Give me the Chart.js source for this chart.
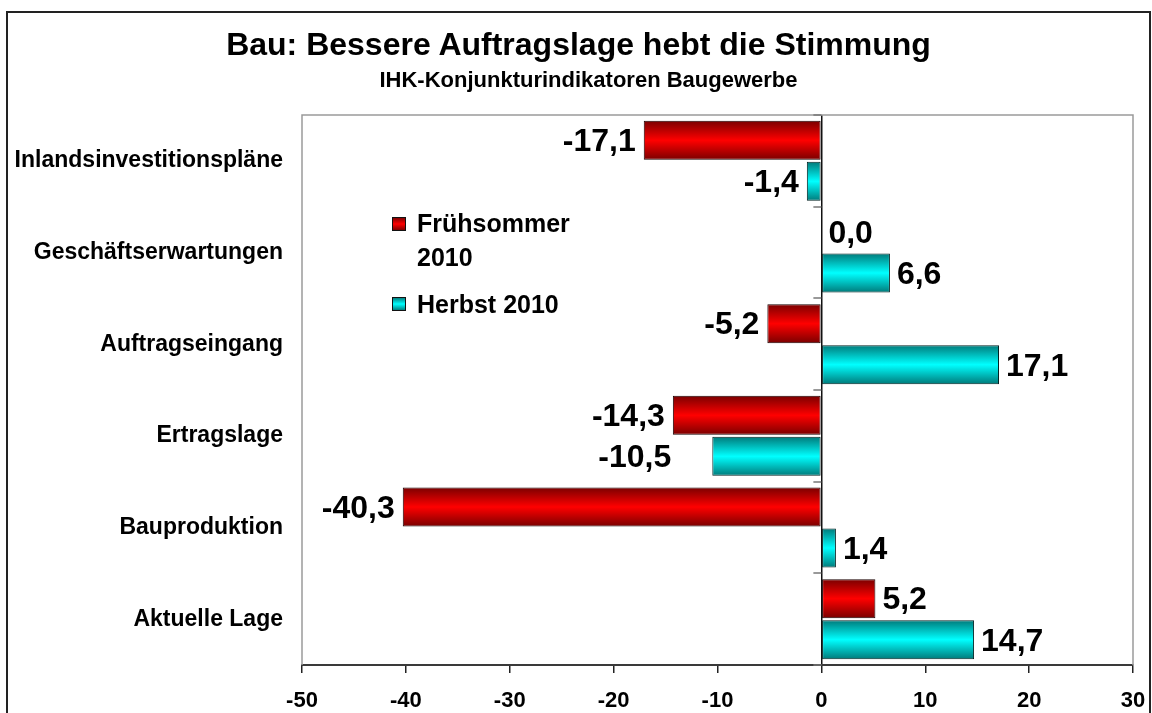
<!DOCTYPE html>
<html><head><meta charset="utf-8">
<script src="https://cdn.jsdelivr.net/npm/chart.js@4.4.1/dist/chart.umd.min.js"></script>
<style>
html,body{margin:0;padding:0;background:#fff;}
#wrap{position:relative;width:1152px;height:713px;overflow:hidden;font-family:"Liberation Sans",Arial,sans-serif;}
#frame{position:absolute;left:6px;top:11px;width:1145px;height:740px;border:2px solid #222;box-sizing:border-box;pointer-events:none;}
#c{position:absolute;left:0;top:0;}
.t{position:absolute;width:1143px;text-align:center;font-weight:bold;color:#000;white-space:nowrap;}
#title{left:7px;top:26px;font-size:32px;line-height:37px;}
#subtitle{left:17px;top:67px;font-size:22px;line-height:26px;}
.lg{position:absolute;font-weight:bold;font-size:25px;line-height:28px;color:#000;white-space:nowrap;}
.sw{position:absolute;width:14px;height:14px;border:1px solid #111;box-sizing:border-box;}
</style></head>
<body>
<div id="wrap">
<canvas id="c" width="1152" height="713"></canvas>
<div id="frame"></div>
<div class="t" id="title">Bau: Bessere Auftragslage hebt die Stimmung</div>
<div class="t" id="subtitle">IHK-Konjunkturindikatoren Baugewerbe</div>
<div class="sw" id="sw1" style="left:392px;top:217px;background:linear-gradient(#800000,#ff0000,#800000);"></div>
<div class="lg" style="left:417px;top:209px;" id="lg1a"></div>
<div class="lg" style="left:417px;top:243px;" id="lg1b"></div>
<div class="sw" id="sw2" style="left:392px;top:297px;background:linear-gradient(#008080,#00ffff,#008080);"></div>
<div class="lg" style="left:417px;top:290px;" id="lg2"></div>
</div>
<script>
const categories = ['Inlandsinvestitionspläne','Geschäftserwartungen','Auftragseingang','Ertragslage','Bauproduktion','Aktuelle Lage'];
const seriesNames = ['Frühsommer 2010','Herbst 2010'];
const fruehsommer2010 = [-17.1, 0.0, -5.2, -14.3, -40.3, 5.2];
const herbst2010 = [-1.4, 6.6, 17.1, -10.5, 1.4, 14.7];
const xTicks = [-50,-40,-30,-20,-10,0,10,20,30];

document.getElementById('lg1a').textContent = 'Frühsommer';
document.getElementById('lg1b').textContent = '2010';
document.getElementById('lg2').textContent = seriesNames[1];

const FONT = '"Liberation Sans", Arial, sans-serif';
const gradStops = [
  ['#7a0000','#ff0000','#7a0000'],
  ['#007a7a','#00ffff','#007a7a']
];
const labelShift = {'1-3': -33};

const gradientPlugin = {
  id: 'barGradient',
  beforeDatasetsDraw(chart) {
    const ctx = chart.ctx;
    chart.data.datasets.forEach((ds, di) => {
      const meta = chart.getDatasetMeta(di);
      meta.data.forEach(bar => {
        const {y, height} = bar.getProps(['y','height'], true);
        const g = ctx.createLinearGradient(0, y - height/2, 0, y + height/2);
        const s = gradStops[di];
        g.addColorStop(0, s[0]); g.addColorStop(0.5, s[1]); g.addColorStop(1, s[2]);
        bar.options.backgroundColor = g;
      });
    });
  }
};

const framePlugin = {
  id: 'plotFrame',
  beforeDatasetsDraw(chart) {
    const {ctx, chartArea: a, scales} = chart;
    ctx.save();
    ctx.strokeStyle = '#9a9a9a';
    ctx.lineWidth = 1.5;
    ctx.beginPath();
    ctx.moveTo(a.left, a.bottom); ctx.lineTo(a.left, a.top); ctx.lineTo(a.right, a.top); ctx.lineTo(a.right, a.bottom);
    ctx.stroke();
    const x0 = scales.x.getPixelForValue(0);
    ctx.strokeStyle = '#777';
    ctx.lineWidth = 1.5;
    for (let i = 0; i <= categories.length; i++) {
      const yy = Math.round(scales.y.getPixelForValue(i - 0.5));
      ctx.beginPath(); ctx.moveTo(x0 - 8, yy); ctx.lineTo(x0, yy); ctx.stroke();
    }
    ctx.restore();
  }
};

const labelPlugin = {
  id: 'valueLabels',
  afterDatasetsDraw(chart) {
    const ctx = chart.ctx;
    ctx.save();
    ctx.font = 'bold 32px ' + FONT;
    ctx.fillStyle = '#000';
    ctx.textBaseline = 'middle';
    chart.data.datasets.forEach((ds, di) => {
      const meta = chart.getDatasetMeta(di);
      meta.data.forEach((bar, i) => {
        const v = ds.data[i];
        const {x, y} = bar.getProps(['x','y'], true);
        const txt = v.toFixed(1).replace('.', ',');
        const sh = labelShift[di + '-' + i] || 0;
        if (v >= 0) { ctx.textAlign = 'left'; ctx.fillText(txt, x + 7 + sh, y + 2); }
        else { ctx.textAlign = 'right'; ctx.fillText(txt, x - 8 + sh, y + 2); }
      });
    });
    ctx.restore();
  }
};

new Chart(document.getElementById('c'), {
  type: 'bar',
  data: {
    labels: categories,
    datasets: [
      { label: seriesNames[0], data: fruehsommer2010, backgroundColor: () => '#ff0000', borderColor: '#1a0000', borderWidth: 1, borderSkipped: false },
      { label: seriesNames[1], data: herbst2010, backgroundColor: () => '#00ffff', borderColor: '#002222', borderWidth: 1, borderSkipped: false }
    ]
  },
  options: {
    indexAxis: 'y',
    responsive: false,
    animation: false,
    devicePixelRatio: 1,
    categoryPercentage: 0.895,
    barPercentage: 0.95,
    layout: { padding: { left: 0, right: 19, top: 115, bottom: 0 } },
    plugins: { legend: { display: false }, title: { display: false }, tooltip: { enabled: false } },
    scales: {
      x: {
        type: 'linear',
        min: xTicks[0], max: xTicks[xTicks.length - 1],
        afterBuildTicks: s => { s.ticks = xTicks.map(v => ({ value: v })); },
        afterFit: s => { s.height = 48; s.paddingLeft = 0; s.paddingRight = 0; },
        ticks: { color: '#000', font: { family: FONT, weight: 'bold', size: 22 }, padding: 15, callback: v => String(v) },
        grid: {
          drawOnChartArea: true, drawTicks: true, tickLength: 8,
          color: c => (c.tick && c.tick.value === 0) ? '#111' : 'rgba(0,0,0,0)',
          tickColor: '#222', lineWidth: 1.5, tickWidth: 1.5
        },
        border: { display: true, color: '#3a3a3a', width: 2 }
      },
      y: {
        type: 'category',
        afterFit: s => { s.width = 302; },
        ticks: { color: '#000', font: { family: FONT, weight: 'bold', size: 23 }, padding: 19 },
        grid: { display: false, drawTicks: false },
        border: { display: false }
      }
    }
  },
  plugins: [gradientPlugin, framePlugin, labelPlugin]
});
</script>
</body></html>
